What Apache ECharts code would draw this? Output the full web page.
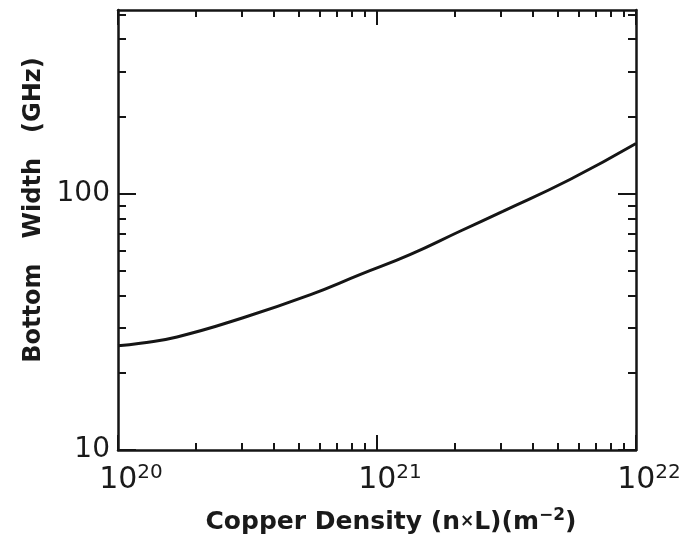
<!DOCTYPE html>
<html>
<head>
<meta charset="utf-8">
<script src="https://cdn.jsdelivr.net/npm/echarts@6/dist/echarts.min.js"></script>
<style>html,body{margin:0;padding:0;background:#fff;}#c{width:680px;height:560px;}</style>
</head>
<body>
<div id="c"></div>
<script>
// Data
const density = [1e20, 1.22e20, 1.69e20, 3.04e20, 5.51e20, 8.59e20, 1.34e21, 2.09e21, 3.06e21, 5.56e21, 1e22];
const bottomWidth = [25.5, 26.1, 27.6, 32.8, 40.3, 48.3, 57.8, 71.3, 85.3, 113.5, 156.7];

const xMajorTicks = [1e20, 1e21, 1e22];
const xMinorTicks = [2e20,3e20,4e20,5e20,6e20,7e20,8e20,9e20,2e21,3e21,4e21,5e21,6e21,7e21,8e21,9e21];
const yMajorTicks = [10, 100];
const yMinorTicks = [20,30,40,50,60,70,80,90,200,300,400,500];

const X_MIN = 1e20, X_MAX = 1e22, Y_MIN = 10, Y_MAX = 520;
const INK = '#151515';
const FONT = 'DejaVu Sans';

function xAxisDef(pos, ticks, len, showLine, labels) {
  return {
    type: 'log', position: pos, min: X_MIN, max: X_MAX,
    axisLine: { show: showLine, lineStyle: { color: INK, width: 2.5 } },
    axisTick: { show: true, inside: true, length: len, customValues: ticks, lineStyle: { color: INK, width: 2 } },
    axisLabel: labels ? {
      show: true, customValues: xMajorTicks, margin: 13, color: '#1a1a1a',
      padding: [0, 0, 0, 26],
      formatter: v => '{b|10}{s|' + Math.round(Math.log10(v)) + '}',
      rich: {
        b: { fontFamily: FONT, fontSize: 30, lineHeight: 34, color: '#1a1a1a' },
        s: { fontFamily: FONT, fontSize: 20, lineHeight: 20, verticalAlign: 'top', color: '#1a1a1a' }
      }
    } : { show: false },
    splitLine: { show: false }, minorTick: { show: false }
  };
}
function yAxisDef(pos, ticks, len, showLine, labels) {
  return {
    type: 'log', position: pos, min: Y_MIN, max: Y_MAX,
    axisLine: { show: showLine, lineStyle: { color: INK, width: 2.5 } },
    axisTick: { show: true, inside: true, length: len, customValues: ticks, lineStyle: { color: INK, width: 2 } },
    axisLabel: labels ? {
      show: true, customValues: yMajorTicks, margin: 8, color: '#1a1a1a',
      fontFamily: FONT, fontSize: 28,
      formatter: v => String(Math.round(v))
    } : { show: false },
    splitLine: { show: false }, minorTick: { show: false }
  };
}

const chart = echarts.init(document.getElementById('c'), null, { renderer: 'canvas' });
chart.setOption({
  backgroundColor: '#fff',
  animation: false,
  grid: { left: 118, right: 44, top: 10, bottom: 110, outerBoundsMode: 'none', containLabel: false },
  xAxis: [
    xAxisDef('bottom', xMajorTicks, 15, true, true),
    xAxisDef('bottom', xMinorTicks, 7, false, false),
    xAxisDef('top', xMajorTicks, 15, true, false),
    xAxisDef('top', xMinorTicks, 7, false, false)
  ],
  yAxis: [
    yAxisDef('left', yMajorTicks, 18, true, true),
    yAxisDef('left', yMinorTicks, 8, false, false),
    yAxisDef('right', yMajorTicks, 18, true, false),
    yAxisDef('right', yMinorTicks, 8, false, false)
  ],
  series: [{
    type: 'line', xAxisIndex: 0, yAxisIndex: 0,
    data: density.map((d, i) => [d, bottomWidth[i]]),
    smooth: 0.5, showSymbol: false, symbol: 'none',
    lineStyle: { color: INK, width: 3 }
  }],
  graphic: [
    {
      type: 'text', x: 34, y: 210, rotation: Math.PI / 2,
      style: {
        text: 'Bottom   Width   (GHz)', fill: '#1a1a1a',
        font: '600 24px "DejaVu Sans"', align: 'center', verticalAlign: 'middle'
      }
    },
    {
      type: 'text', x: 391, y: 522,
      style: {
        text: '{t|Copper Density (n}{x|×}{t|L)(m}{s|−2}{t|)}',
        align: 'center', verticalAlign: 'middle',
        rich: {
          t: { fontFamily: FONT, fontWeight: 600, fontSize: 25, fill: '#1a1a1a', lineHeight: 30 },
          x: { fontFamily: FONT, fontWeight: 600, fontSize: 17, fill: '#1a1a1a', lineHeight: 30 },
          s: { fontFamily: FONT, fontWeight: 600, fontSize: 17, fill: '#1a1a1a', verticalAlign: 'top', lineHeight: 17 }
        }
      }
    }
  ]
});
</script>
</body>
</html>
